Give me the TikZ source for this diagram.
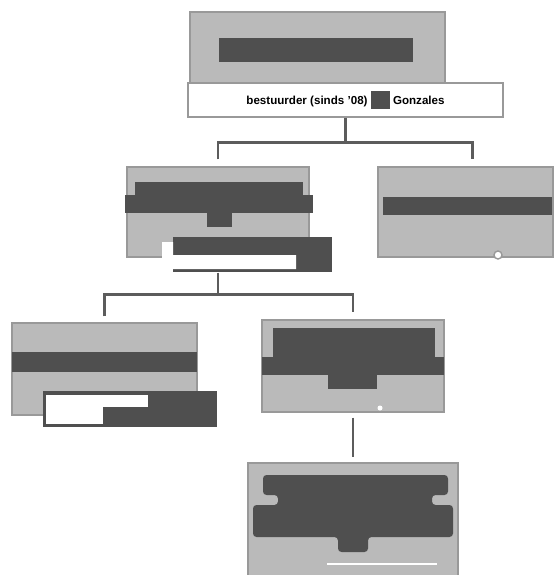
\documentclass[tikz,border=0pt]{standalone}
\usepackage{fontspec}
\setsansfont{Liberation Sans}
\usetikzlibrary{fit,calc}
\definecolor{grijs}{gray}{0.73}
\definecolor{grijsRand}{gray}{0.6}
\definecolor{zwart}{gray}{0.31}
\definecolor{lijn}{gray}{0.36}
\tikzstyle{box} = [draw=grijsRand,fill=grijs,inner sep=0pt,line width=0.8pt]
\tikzstyle{strip} = [draw=grijsRand,fill=white,inner sep=0pt,line width=1pt,font=\sffamily\bfseries\fontsize{6.6}{7}\selectfont]
\tikzstyle{redact} = [fill=zwart]
\tikzstyle{link} = [draw=lijn,line width=1.6pt]

\begin{document}
\begin{tikzpicture}[x=0.02cm,y=-0.02cm]
\useasboundingbox (0,0) rectangle (554,575);

% top: bestuurder
\node[box,fit={(190,12) (445,86)}] (top) {};
\fill[redact] (219,38) rectangle (413,62);
\node[strip,fit={(188,83) (503,117)}] (label) {};
\node at (label.center) [font=\sffamily\bfseries\fontsize{6.6}{7}\selectfont] {bestuurder (sinds '08) \textcolor{zwart}{\rule[-0.9mm]{0.38cm}{0.36cm}} Gonzales};

% second level
\node[box,fit={(127,167) (309,257)}] (midL) {};
\fill[redact] (135,182) rectangle (303,195);
\fill[redact] (125,195) rectangle (313,213);
\fill[redact] (207,213) rectangle (232,227);
\fill[redact] (173,237) rectangle (332,272);
\fill[white] (162,242) -- (173,242) -- (173,255) -- (296,255) -- (296,269) -- (162,269) -- cycle;

\node[box,fit={(378,167) (553,257)}] (midR) {};
\fill[redact] (383,197) rectangle (552,215);
\draw[grijsRand,fill=white,line width=0.8pt] (498,255) circle (4);

\draw[link] (label.south) -- ($(label.south)+(0,25)$);
\draw[link] ($(midL.north)+(0,-7)$) |- ($(label.south)+(0,25)$) -| ($(midR.north)+(7,-7)$);

% third level
\node[box,fit={(12,323) (197,415)}] (lowL) {};
\fill[redact] (12,352) rectangle (197,372);
\fill[redact] (43,391) rectangle (217,427);
\fill[white] (46,395) rectangle (148,407);
\fill[white] (46,407) rectangle (103,424);

\node[box,fit={(262,320) (444,412)}] (lowM) {};
\fill[redact] (273,328) rectangle (435,357);
\fill[redact] (262,357) rectangle (444,375);
\fill[redact] (328,375) rectangle (377,389);
\fill[white] (380,408) circle (2.5);

\draw[link] ($(midL.south)+(0,15)$) -- ($(midL.south)+(0,38)$);
\draw[link] ($(lowL.north)+(0,-6)$) |- ($(lowM.north)+(0,-25)$) -- ($(lowM.north)+(0,-7)$);

% fourth level
\node[box,fit={(248,463) (458,576)}] (lowB) {};
\fill[redact,rounded corners=2pt] (263,475) -- (448,475) -- (448,495) -- (432,495) -- (432,505) -- (453,505) -- (453,537) -- (368,537) -- (368,552) -- (338,552) -- (338,537) -- (253,537) -- (253,505) -- (278,505) -- (278,495) -- (263,495) -- cycle;
\draw[white,line width=1.6pt] (327,564) -- (437,564);

\draw[link] ($(lowM.south)+(0,5)$) -- ($(lowB.north)+(0,-5)$);
\end{tikzpicture}
\end{document}
